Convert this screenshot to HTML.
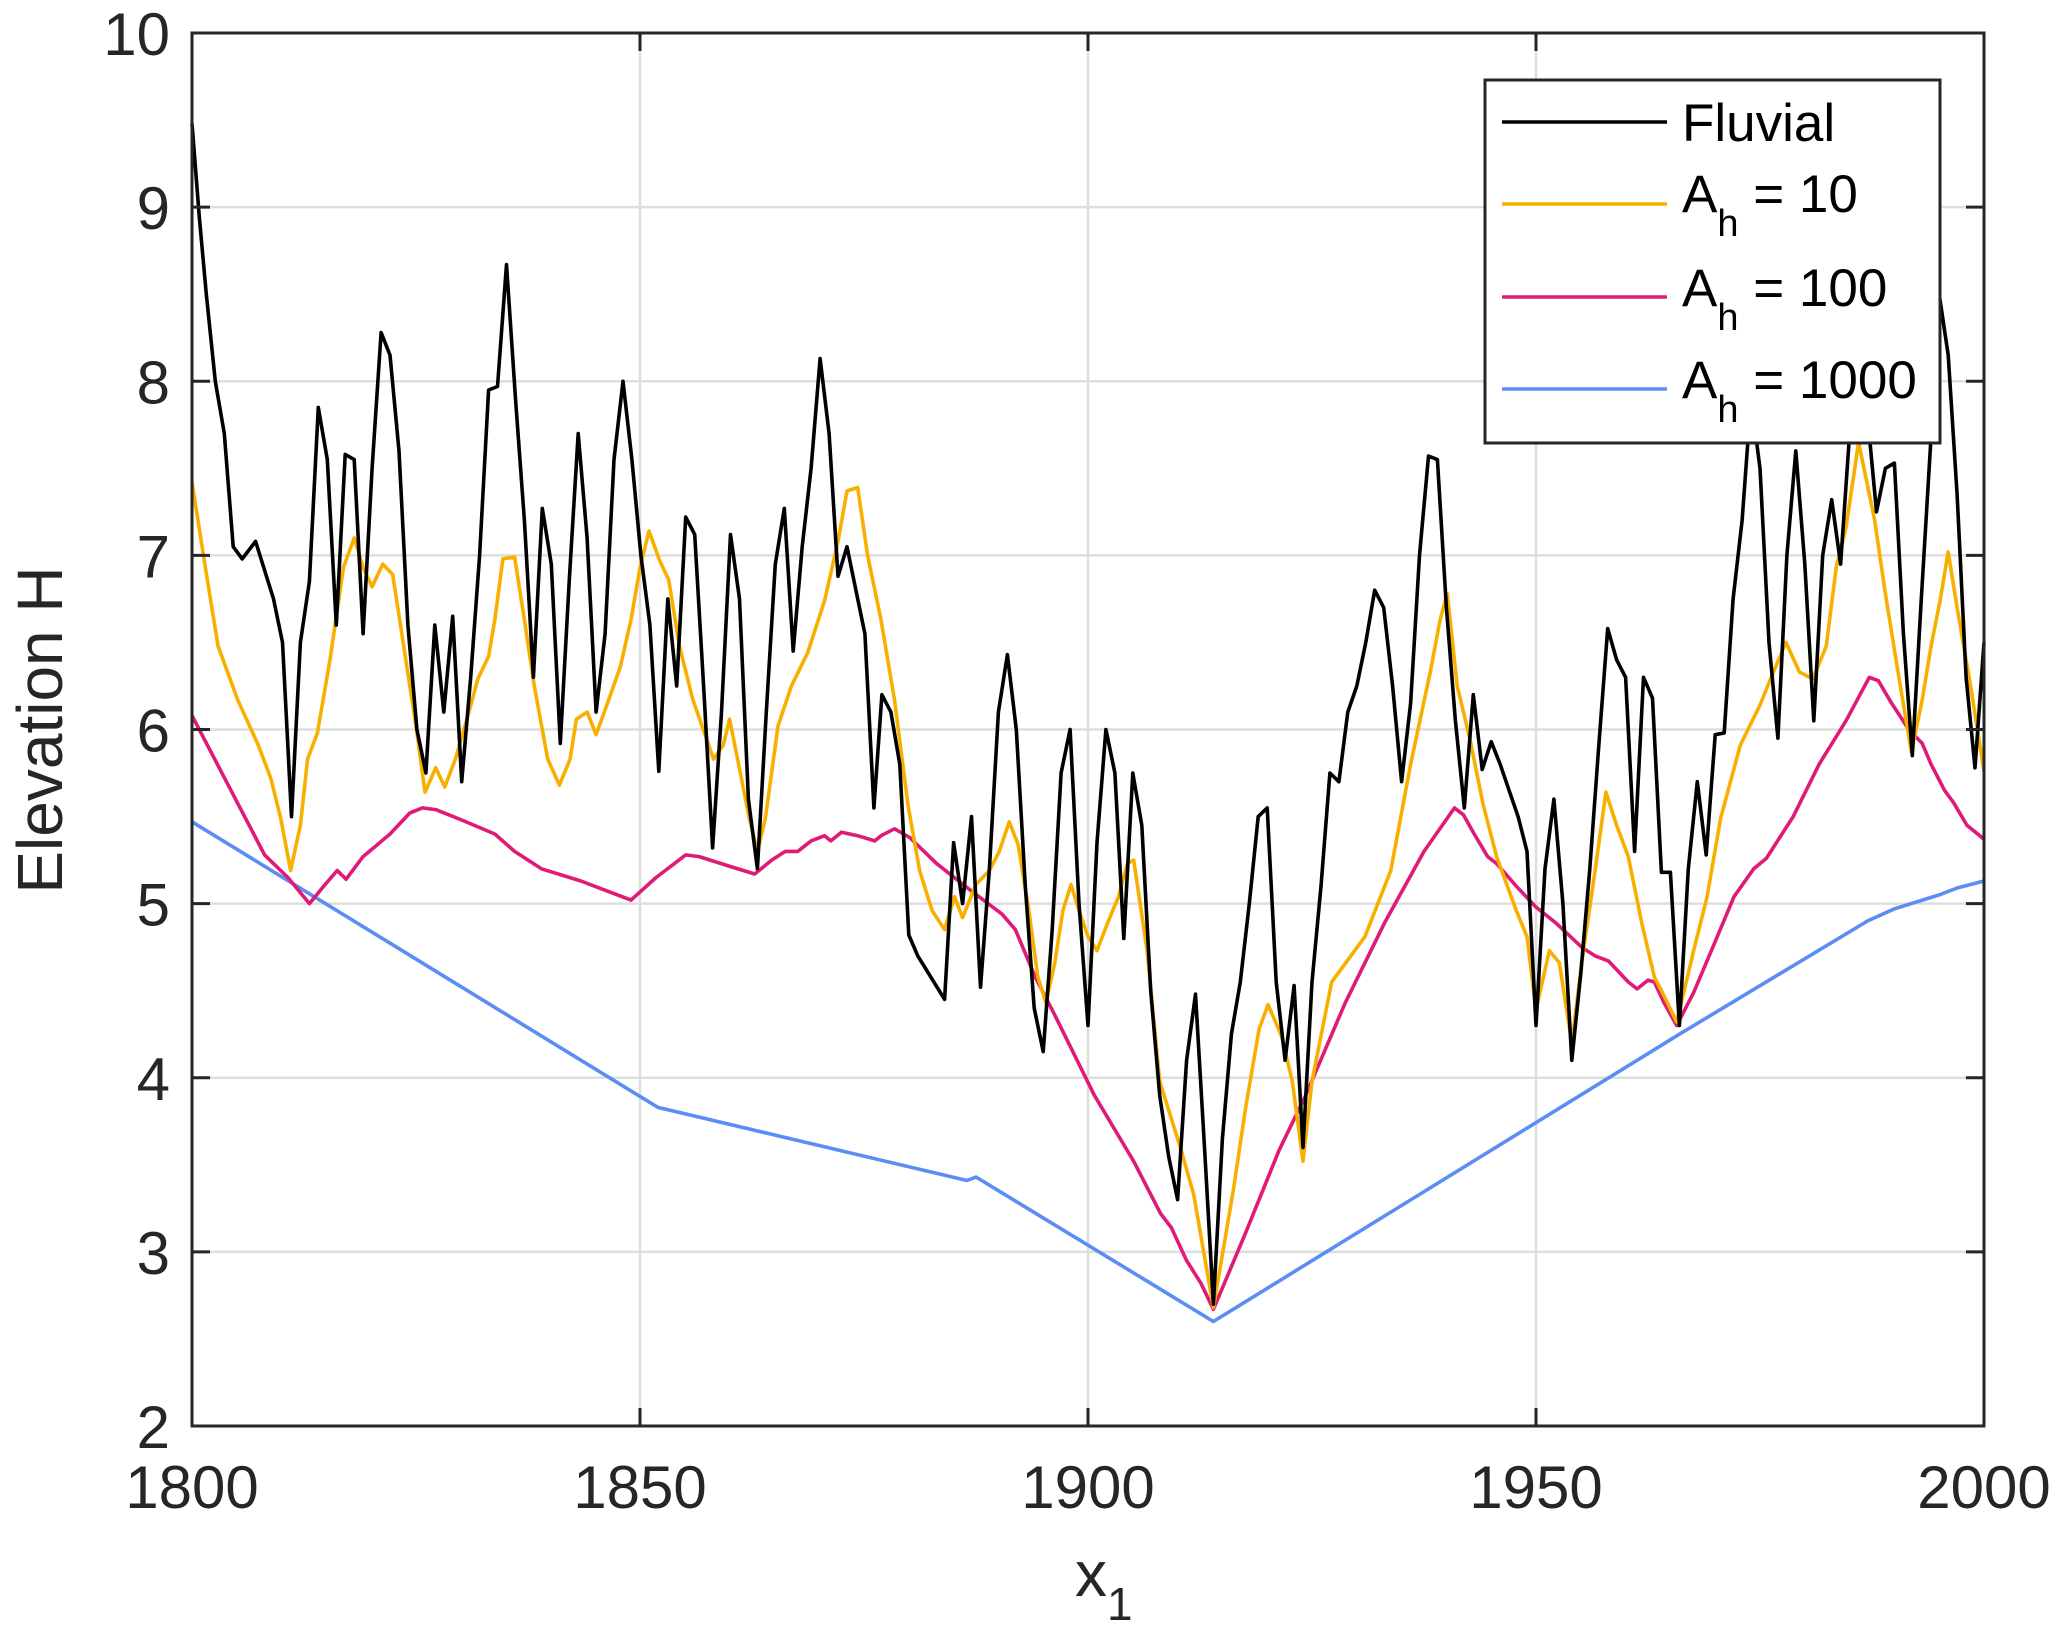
<!DOCTYPE html>
<html>
<head>
<meta charset="utf-8">
<style>
html,body{margin:0;padding:0;background:#fff;}
svg{display:block;font-family:"Liberation Sans",Arial,sans-serif;}
</style>
</head>
<body>
<svg id="chart" width="2067" height="1636" viewBox="0 0 2067 1636" xmlns="http://www.w3.org/2000/svg">
  <rect x="0" y="0" width="2067" height="1636" fill="#fff"/>
  <g id="grid"></g>
  <g id="series"></g>
  <g id="axes"></g>
  <text x="0" y="0" font-size="64" fill="#262626" text-anchor="middle" transform="translate(62,730) rotate(-90)">Elevation H</text>
  <text x="1075" y="1596" font-size="64" fill="#262626">x<tspan font-size="46" dy="24">1</tspan></text>
  <g id="legend">
    <rect x="1485" y="80" width="455" height="363" fill="#fff" stroke="#262626" stroke-width="3"/>
    <g>
      <line x1="1502" y1="122" x2="1667" y2="122" stroke="#000" stroke-width="3.6"/>
      <text x="1682" y="141" font-size="53" fill="#000">Fluvial</text>
    </g>
    <g>
      <line x1="1502" y1="204" x2="1667" y2="204" stroke="#f7b000" stroke-width="3.6"/>
      <text x="1682" y="212" font-size="53" fill="#000">A<tspan font-size="38" dy="24">h</tspan><tspan font-size="53" dy="-24"> = 10</tspan></text>
    </g>
    <g>
      <line x1="1502" y1="297" x2="1667" y2="297" stroke="#df1b77" stroke-width="3.6"/>
      <text x="1682" y="306" font-size="53" fill="#000">A<tspan font-size="38" dy="24">h</tspan><tspan font-size="53" dy="-24"> = 100</tspan></text>
    </g>
    <g>
      <line x1="1502" y1="389" x2="1667" y2="389" stroke="#5b8ef5" stroke-width="3.6"/>
      <text x="1682" y="398" font-size="53" fill="#000">A<tspan font-size="38" dy="24">h</tspan><tspan font-size="53" dy="-24"> = 1000</tspan></text>
    </g>
  </g>
</svg>
<script>
const xTicks = [1800, 1850, 1900, 1950, 2000];
const yTicks = [2, 3, 4, 5, 6, 7, 8, 9, 10];

const fluvialX = [1800,1800.8,1801.6,1802.6,1803.6,1804.6,1805.6,1807.1,1809.1,1810.1,1811.1,1812.1,1813.1,1814.1,1815.1,1816.1,1817.1,1818.1,1819.1,1820.1,1821.1,1822.1,1823.1,1824.1,1825.1,1826.1,1827.1,1828.1,1829.1,1830.1,1831.1,1832.1,1833.1,1834.1,1835.1,1836.1,1837.1,1838.1,1839.1,1840.1,1841.1,1842.1,1843.1,1844.1,1845.1,1846.1,1847.1,1848.1,1849.1,1850.1,1851.1,1852.1,1853.1,1854.1,1855.1,1856.1,1857.1,1858.1,1859.1,1860.1,1861.1,1862.1,1863.1,1864.1,1865.1,1866.1,1867.1,1868.1,1869.1,1870.1,1871.1,1872.1,1873.1,1874.1,1875.1,1876.1,1877,1878,1879,1880,1881,1884,1885,1886,1887,1888,1889,1890,1891,1892,1893,1894,1895,1896,1897,1898,1899,1900,1901,1902,1903,1904,1905,1906,1907,1908,1909,1910,1911,1912,1913,1914,1915,1916,1917,1918,1919,1920,1921,1922,1923,1924,1925,1926,1927,1928,1929,1930,1931,1932,1933,1934,1935,1936,1937,1938,1939,1940,1941,1942,1943,1944,1945,1946,1947,1948,1949,1950,1951,1952,1953,1954,1955,1956,1957,1958,1959,1960,1961,1962,1963,1964,1965,1966,1967,1968,1969,1970,1971,1972,1973,1974,1975,1976,1977,1978,1979,1980,1981,1982,1983,1984,1985,1986,1987,1988,1989,1990,1991,1992,1993,1994,1995,1996,1997,1998,1999,2000];
const fluvialY = [9.48,8.95,8.5,8.0,7.7,7.05,6.98,7.08,6.75,6.5,5.5,6.5,6.85,7.85,7.55,6.6,7.58,7.55,6.55,7.5,8.28,8.15,7.6,6.6,6.0,5.75,6.6,6.1,6.65,5.7,6.3,7.0,7.95,7.97,8.67,7.9,7.2,6.3,7.27,6.95,5.92,6.85,7.7,7.1,6.1,6.55,7.55,8.0,7.55,7.0,6.6,5.76,6.75,6.25,7.22,7.12,6.25,5.32,6.1,7.12,6.75,5.6,5.2,6.1,6.95,7.27,6.45,7.05,7.5,8.13,7.7,6.88,7.05,6.8,6.55,5.55,6.2,6.1,5.8,4.82,4.7,4.45,5.35,5.0,5.5,4.52,5.2,6.1,6.43,6.0,5.1,4.4,4.15,4.85,5.75,6.0,5.0,4.3,5.35,6.0,5.75,4.8,5.75,5.45,4.5,3.9,3.55,3.3,4.1,4.48,3.6,2.7,3.65,4.25,4.55,5.0,5.5,5.55,4.55,4.1,4.53,3.6,4.55,5.1,5.75,5.7,6.1,6.25,6.5,6.8,6.7,6.25,5.7,6.15,7.0,7.57,7.55,6.7,6.05,5.55,6.2,5.77,5.93,5.8,5.65,5.5,5.3,4.3,5.2,5.6,5.0,4.1,4.6,5.2,5.9,6.58,6.4,6.3,5.3,6.3,6.18,5.18,5.18,4.3,5.2,5.7,5.28,5.97,5.98,6.75,7.2,7.9,7.5,6.5,5.95,7.0,7.6,6.95,6.05,7.0,7.32,6.95,7.7,8.1,7.8,7.25,7.5,7.53,6.55,5.85,6.75,7.6,8.5,8.15,7.35,6.3,5.78,6.5];

const ah10X = [1800,1801.5,1802.9,1805.1,1807.4,1808.8,1809.9,1811,1812.1,1812.9,1814,1815.4,1816.9,1818.1,1819.1,1820.1,1821.3,1822.4,1823.5,1825,1826,1827.2,1828.2,1829.4,1830.9,1831.9,1833.1,1833.8,1834.7,1836,1837.1,1838.2,1839.7,1841,1842.2,1842.9,1844.1,1845.1,1846.3,1847.8,1849,1850,1851,1852.2,1853.2,1854.4,1855.9,1857.4,1858.2,1859.3,1860,1861,1862.2,1863.1,1864,1865.4,1866.9,1868.7,1870.6,1872.1,1873.1,1874.3,1875.4,1876.9,1878.4,1879.9,1881.2,1882.6,1884,1885.1,1886,1887.5,1889,1890.1,1891.2,1892.2,1893.4,1894.4,1895.3,1896.3,1897.2,1898.1,1899,1900,1901,1902.2,1903.4,1904.4,1905.1,1906.6,1908,1910.3,1911.8,1914,1916.2,1917.6,1919.1,1920.1,1921.6,1922.8,1924,1925,1927.2,1930.9,1933.8,1936,1938.2,1939.3,1940.1,1941.2,1942.6,1944.1,1945.6,1947.8,1949,1950,1951.5,1952.6,1954,1955.1,1956.6,1957.8,1959,1960.3,1961.8,1963.2,1964.3,1965.7,1967.6,1969.1,1970.6,1972.8,1975,1976.5,1977.9,1979.4,1980.9,1982.4,1983.5,1984.6,1986,1987.8,1989,1990.4,1991.9,1993.1,1994.1,1995.1,1996,1997,1998.5,2000];
const ah10Y = [7.42,6.93,6.48,6.17,5.91,5.72,5.49,5.19,5.45,5.83,5.98,6.4,6.93,7.1,6.93,6.82,6.95,6.89,6.52,6.02,5.64,5.78,5.67,5.83,6.1,6.29,6.42,6.63,6.98,6.99,6.63,6.25,5.83,5.68,5.83,6.06,6.1,5.97,6.14,6.36,6.63,6.93,7.14,6.97,6.86,6.48,6.17,5.95,5.83,5.91,6.06,5.8,5.49,5.3,5.49,6.02,6.25,6.44,6.74,7.08,7.37,7.39,7.0,6.63,6.17,5.57,5.19,4.96,4.85,5.04,4.92,5.11,5.19,5.3,5.47,5.34,4.96,4.58,4.43,4.66,4.96,5.11,4.96,4.81,4.73,4.89,5.04,5.23,5.25,4.73,3.98,3.6,3.33,2.68,3.35,3.83,4.28,4.42,4.24,3.98,3.52,3.98,4.55,4.81,5.19,5.8,6.33,6.63,6.78,6.25,5.95,5.57,5.27,4.96,4.81,4.39,4.73,4.66,4.2,4.66,5.19,5.64,5.45,5.27,4.89,4.58,4.47,4.32,4.73,5.04,5.49,5.91,6.14,6.33,6.5,6.33,6.29,6.48,6.93,7.16,7.65,7.2,6.78,6.33,5.87,6.17,6.48,6.74,7.02,6.7,6.25,5.76];

const ah100X = [1800,1808.1,1810.7,1813.1,1814.7,1816.2,1817.2,1819.1,1822.1,1824.3,1825.7,1827.2,1830.1,1833.8,1836,1839,1843.4,1849,1851.8,1855.1,1856.6,1860.3,1862.8,1864.7,1866.2,1867.6,1869.1,1870.6,1871.3,1872.5,1874.3,1876.2,1876.9,1878.4,1880.1,1883.1,1886.8,1890.4,1891.9,1894.1,1896.3,1900.7,1905.1,1908.1,1909.3,1911,1912.6,1914,1917.6,1921.3,1924.3,1928.7,1933.1,1937.5,1940.9,1941.9,1943.1,1944.6,1945.6,1947.8,1950,1952.2,1955.1,1956.6,1958.1,1960.3,1961.3,1962.5,1963.2,1964.3,1965.7,1967.6,1969.9,1972.1,1974.3,1975.7,1978.7,1981.6,1984.6,1987.2,1988.2,1989.7,1991.6,1993.1,1994.1,1995.6,1996.6,1998.1,2000];
const ah100Y = [6.08,5.28,5.15,5.0,5.1,5.19,5.14,5.27,5.4,5.52,5.55,5.54,5.48,5.4,5.3,5.2,5.13,5.02,5.15,5.28,5.27,5.21,5.17,5.25,5.3,5.3,5.36,5.39,5.36,5.41,5.39,5.36,5.39,5.43,5.38,5.23,5.08,4.94,4.85,4.58,4.36,3.9,3.52,3.22,3.14,2.95,2.82,2.67,3.11,3.58,3.9,4.43,4.89,5.3,5.55,5.51,5.4,5.27,5.23,5.1,4.98,4.89,4.75,4.7,4.67,4.55,4.51,4.56,4.55,4.43,4.3,4.49,4.77,5.04,5.2,5.26,5.5,5.8,6.05,6.3,6.28,6.15,6.0,5.92,5.8,5.65,5.58,5.45,5.37];

const ah1000X = [1800,1852,1886.5,1887.5,1914,1966,1987,1990,1995,1997,2000];
const ah1000Y = [5.47,3.83,3.41,3.43,2.6,4.25,4.9,4.97,5.05,5.09,5.13];

const L = 192, R = 1984, T = 33, B = 1426;
const xMin = 1800, xMax = 2000, yMin = 2, yMax = 10;
function xs(v){ return L + (v - xMin) / (xMax - xMin) * (R - L); }
function ys(v){ return B - (v - yMin) / (yMax - yMin) * (B - T); }

const NS = 'http://www.w3.org/2000/svg';
function mk(tag, attrs, parent){
  const el = document.createElementNS(NS, tag);
  for (const k in attrs) el.setAttribute(k, attrs[k]);
  parent.appendChild(el);
  return el;
}
const grid = document.getElementById('grid');
const axes = document.getElementById('axes');
const series = document.getElementById('series');

xTicks.forEach(t => {
  const x = xs(t);
  if (t !== xMin && t !== xMax) {
    const g = mk('line', {x1:x, y1:T, x2:x, y2:B, stroke:'#dedede', 'stroke-width':2.5}, grid);
    
    
  }
  const tk = mk('path', {d:`M${x},${B}V${B-18}M${x},${T}V${T+18}`, stroke:'#262626', 'stroke-width':3, fill:'none'}, axes);
  
  
  const lb = mk('text', {x:x, y:B+82, 'font-size':60, fill:'#262626', 'text-anchor':'middle'}, axes);
  lb.textContent = t;
  
  
});
yTicks.forEach(t => {
  const y = ys(t);
  if (t !== yMin && t !== yMax) {
    const g = mk('line', {x1:L, y1:y, x2:R, y2:y, stroke:'#dedede', 'stroke-width':2.5}, grid);
    
    
  }
  const tk = mk('path', {d:`M${L},${y}H${L+18}M${R},${y}H${R-18}`, stroke:'#262626', 'stroke-width':3, fill:'none'}, axes);
  
  
  const lb = mk('text', {x:L-22, y:y+22, 'font-size':60, fill:'#262626', 'text-anchor':'end'}, axes);
  lb.textContent = t;
  
  
});
const frame = mk('rect', {x:L, y:T, width:R-L, height:B-T, fill:'none', stroke:'#262626', 'stroke-width':3}, axes);



function drawLine(X, Y, color, name){
  const d = X.map((v, i) => (i ? 'L' : 'M') + xs(v).toFixed(1) + ',' + ys(Y[i]).toFixed(1)).join('');
  const p = mk('path', {d:d, stroke:color, 'stroke-width':3.6, fill:'none', 'stroke-linejoin':'round'}, series);
  
  
}
drawLine(ah1000X, ah1000Y, '#5b8ef5', 'line-ah-1000');
drawLine(ah100X, ah100Y, '#df1b77', 'line-ah-100');
drawLine(ah10X, ah10Y, '#f7b000', 'line-ah-10');
drawLine(fluvialX, fluvialY, '#000000', 'line-fluvial');
</script>
</body>
</html>
